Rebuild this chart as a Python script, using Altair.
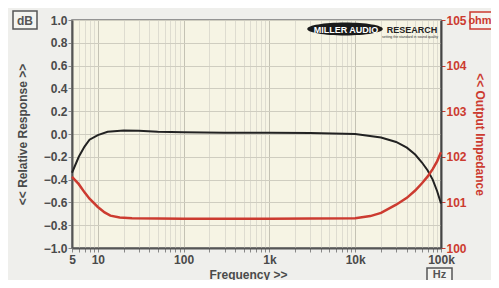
import altair as alt
import pandas as pd

# Relative response (dB), black trace
freq_db = [5, 6, 7, 8, 10, 13, 20, 30, 50, 100, 300, 1000, 3000, 10000,
           20000, 30000, 40000, 50000, 60000, 70000, 80000, 90000, 100000]
resp_db = [-0.34, -0.20, -0.11, -0.05, -0.01, 0.02, 0.03, 0.028, 0.02, 0.015,
           0.012, 0.01, 0.008, 0.0, -0.03, -0.07, -0.12, -0.18, -0.25, -0.32,
           -0.40, -0.50, -0.61]

# Output impedance (ohm), red trace
freq_ohm = [5, 6, 7, 8, 10, 12, 14, 18, 25, 100, 1000, 10000, 15000, 20000,
            30000, 40000, 50000, 60000, 70000, 80000, 90000, 100000]
imp_ohm = [101.56, 101.40, 101.22, 101.08, 100.90, 100.78, 100.71, 100.67,
           100.65, 100.64, 100.64, 100.65, 100.70, 100.77, 100.95, 101.10,
           101.26, 101.42, 101.57, 101.73, 101.90, 102.10]

x_ticks = [5, 6, 7, 8, 9, 10, 20, 30, 40, 50, 60, 70, 80, 90, 100, 200, 300, 400,
           500, 600, 700, 800, 900, 1000, 2000, 3000, 4000, 5000, 6000, 7000,
           8000, 9000, 10000, 20000, 30000, 40000, 50000, 60000, 70000, 80000,
           90000, 100000]
db_ticks = [-1.0, -0.8, -0.6, -0.4, -0.2, 0.0, 0.2, 0.4, 0.6, 0.8, 1.0]
ohm_ticks = [100, 101, 102, 103, 104, 105]

W, H = 369, 228
FONT = "Liberation Sans"
GREY = "#4a4a4a"
RED = "#cc3b30"

df_db = pd.DataFrame({"f": freq_db, "v": resp_db})
df_ohm = pd.DataFrame({"f": freq_ohm, "v": imp_ohm})

xscale = alt.Scale(type="log", domain=[5, 100000], nice=False)
xaxis = alt.Axis(
    values=x_ticks,
    labelExpr="datum.value == 5 ? '5' : datum.value == 10 ? '10' : datum.value == 100 ? '100' : "
              "datum.value == 1000 ? '1k' : datum.value == 10000 ? '10k' : datum.value == 100000 ? '100k' : ''",
    title="Frequency >>",
    titleFont=FONT, titleFontSize=12, titleFontWeight="bold", titleColor=GREY,
    titlePadding=4, titleX=176,
    labelFont=FONT, labelFontSize=12, labelFontWeight="bold", labelColor=GREY,
    labelPadding=2, labelFlush=False, labelOverlap=False,
    tickSize=4, tickColor="#888",
    domainColor="#555", domainWidth=2,
    grid=True,
    gridColor={"condition": {"test": "indexof([10,100,1000,10000,100000], datum.value) >= 0",
                             "value": "#c4c2b4"}, "value": "#dedcd0"},
    gridWidth=1,
)

black = alt.Chart(df_db).mark_line(color="#222222", strokeWidth=2).encode(
    x=alt.X("f:Q", scale=xscale, axis=xaxis),
    y=alt.Y("v:Q", scale=alt.Scale(domain=[-1, 1], nice=False),
            axis=alt.Axis(values=db_ticks, format=".1f", title="<< Relative Response >>",
                          titleFont=FONT, titleFontSize=12, titleFontWeight="bold",
                          titleColor=GREY, titlePadding=14,
                          labelFont=FONT, labelFontSize=12, labelFontWeight="bold",
                          labelColor=GREY, labelPadding=1,
                          tickSize=4, tickColor="#888",
                          domainColor="#555", domainWidth=2,
                          grid=True, gridColor="#cfcdc0", gridWidth=1)),
)

red = alt.Chart(df_ohm).mark_line(color=RED, strokeWidth=2.5).encode(
    x=alt.X("f:Q", scale=xscale, axis=xaxis),
    y=alt.Y("v:Q", scale=alt.Scale(domain=[100, 105], nice=False),
            axis=alt.Axis(orient="right", values=ohm_ticks, format="d",
                          title="<< Output Impedance",
                          titleFont=FONT, titleFontSize=12, titleFontWeight="bold",
                          titleColor=RED, titlePadding=6, titleAngle=90,
                          labelFont=FONT, labelFontSize=12, labelFontWeight="bold",
                          labelColor=RED, labelPadding=1,
                          tickSize=4, tickColor=RED,
                          domainColor="#444", domainWidth=2, grid=False)),
)

# unit boxes
def unit_box(label, x0, x1, y0, y1, color, tx, ty, fs=12):
    box = alt.Chart(pd.DataFrame({"a": [0]})).mark_rect(
        fill="#f4f4f0", stroke=color, strokeWidth=1.5).encode(
        x=alt.value(x0), x2=alt.value(x1), y=alt.value(y0), y2=alt.value(y1))
    txt = alt.Chart(pd.DataFrame({"a": [0]})).mark_text(
        text=label, font=FONT, fontSize=fs, fontWeight="bold", color=color,
        align="center", baseline="middle").encode(
        x=alt.value(tx), y=alt.value(ty))
    return box + txt

db_box = unit_box("dB", -59, -35, -9, 9, "#555", -47, 0.5)
ohm_box = unit_box("ohm", 398, 426, -8, 9, RED, 408, 1, fs=11)
hz_box = unit_box("Hz", 355, 380, 248, 264, "#555", 367.5, 254.5, fs=11)

# logo
one = pd.DataFrame({"a": [0]})
ellipse = alt.Chart(one).mark_point(
    shape="M-1,0A1,0.17,0,1,0,1,0A1,0.17,0,1,0,-1,0Z", size=5700,
    filled=True, color="#1a1a1a", opacity=1).encode(x=alt.value(273), y=alt.value(9))
logo1 = alt.Chart(one).mark_text(text="MILLER AUDIO", font=FONT, fontSize=9,
                                 fontWeight="bold", color="white").encode(
    x=alt.value(274), y=alt.value(9.5))
logo2 = alt.Chart(one).mark_text(text="RESEARCH", font=FONT, fontSize=9,
                                 fontWeight="bold", color="#222").encode(
    x=alt.value(340), y=alt.value(9.5))
logo3 = alt.Chart(one).mark_text(text="setting the standard in sound quality", font=FONT,
                                 fontSize=3.5, color="#333").encode(
    x=alt.value(338), y=alt.value(17))

chart = alt.layer(black, red).resolve_scale(y="independent")
chart = alt.layer(chart, ellipse, logo1, logo2, logo3, db_box, ohm_box, hz_box).properties(
    width=W, height=H,
    autosize=alt.AutoSizeParams(type="none"),
    padding={"left": 64, "top": 12, "right": 50, "bottom": 32},
    background="#efefec",
).configure_view(fill="#f6f4e4", stroke="#777", strokeWidth=1.5)

chart.save("out.html", embed_options={"renderer": "svg", "actions": False})
